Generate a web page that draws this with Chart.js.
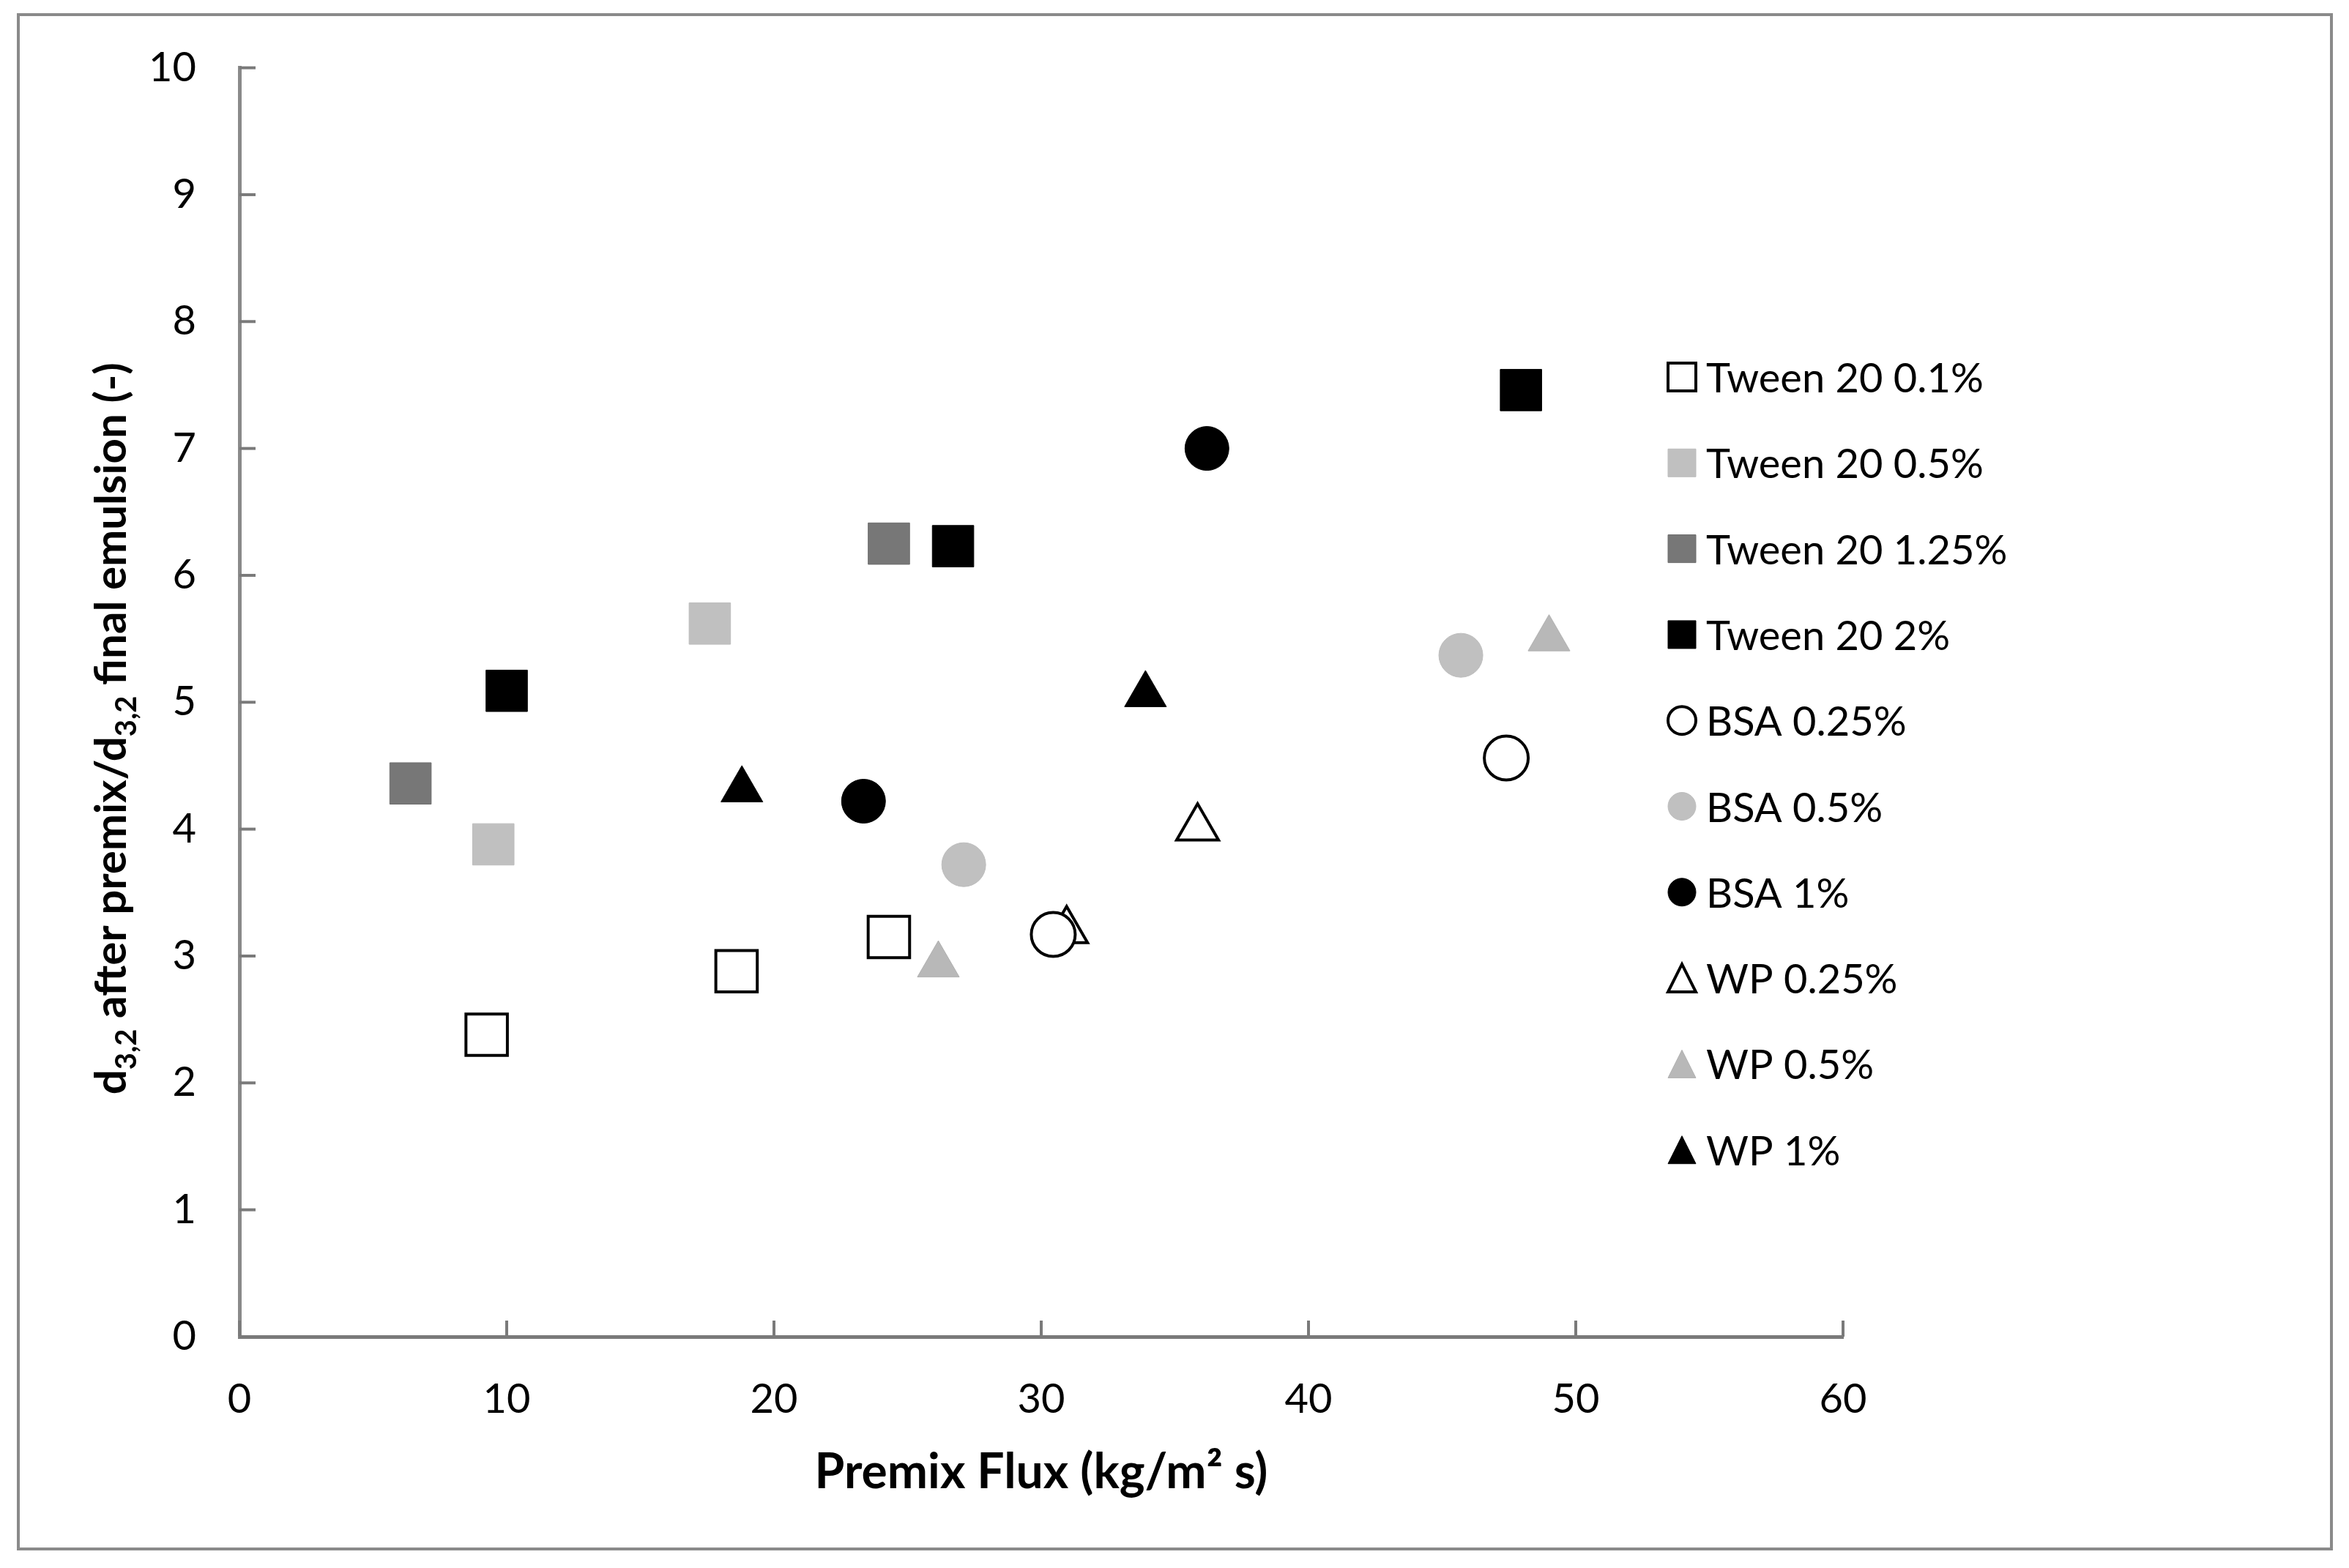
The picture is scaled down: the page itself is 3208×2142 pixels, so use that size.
<!DOCTYPE html>
<html lang="en">
<head>
  <meta charset="UTF-8">
  <title>Premix Flux vs d3,2 ratio</title>
  <script src="https://cdn.jsdelivr.net/npm/chart.js"></script>
  <style>
    html, body { margin: 0; padding: 0; background: #ffffff; }
    canvas { display: block; }
  </style>
</head>
<body>
  <canvas id="chart" width="3208" height="2142"></canvas>

  <script>
    // values
    const seriesNames = ['Tween 20 0.1%', 'Tween 20 0.5%', 'Tween 20 1.25%', 'Tween 20 2%',
                         'BSA 0.25%', 'BSA 0.5%', 'BSA 1%', 'WP 0.25%', 'WP 0.5%', 'WP 1%'];

    const tween01X = [9.25, 18.6, 24.3];
    const tween01Y = [2.38, 2.88, 3.15];
    const tween05X = [9.5, 17.6];
    const tween05Y = [3.88, 5.62];
    const tween125X = [6.4, 24.3];
    const tween125Y = [4.36, 6.25];
    const tween2X = [10.0, 26.7, 47.95];
    const tween2Y = [5.09, 6.23, 7.46];
    const bsa025X = [30.45, 47.4];
    const bsa025Y = [3.17, 4.56];
    const bsa05X = [27.1, 45.7];
    const bsa05Y = [3.72, 5.37];
    const bsa1X = [23.35, 36.2];
    const bsa1Y = [4.22, 7.0];
    const wp025X = [30.95, 35.85];
    const wp025Y = [3.2, 4.01];
    const wp05X = [26.15, 49.0];
    const wp05Y = [2.93, 5.5];
    const wp1X = [18.8, 33.9];
    const wp1Y = [4.31, 5.06];

    const xTicks = [0, 10, 20, 30, 40, 50, 60];
    const yTicks = [0, 1, 2, 3, 4, 5, 6, 7, 8, 9, 10];

    const FONT = "Lato, 'Open Sans', sans-serif";

    function pts(xs, ys) {
      return xs.map((x, i) => ({ x: x, y: ys[i] }));
    }

    // marker look per series (shape, fill, edge)
    const looks = [
      { shape: 'rect', fill: '#ffffff', edge: '#000000' },
      { shape: 'rect', fill: '#c0c0c0', edge: '#bdbdbd' },
      { shape: 'rect', fill: '#777777', edge: '#6e6e6e' },
      { shape: 'rect', fill: '#000000', edge: '#000000' },
      { shape: 'circle', fill: '#ffffff', edge: '#000000' },
      { shape: 'circle', fill: '#c0c0c0', edge: '#bdbdbd' },
      { shape: 'circle', fill: '#000000', edge: '#000000' },
      { shape: 'triangle', fill: '#ffffff', edge: '#000000' },
      { shape: 'triangle', fill: '#b8b8b8', edge: '#b0b0b0' },
      { shape: 'triangle', fill: '#000000', edge: '#000000' }
    ];
    const radiusFor = { rect: 40, circle: 30, triangle: 33 };

    const seriesData = [
      pts(tween01X, tween01Y), pts(tween05X, tween05Y), pts(tween125X, tween125Y), pts(tween2X, tween2Y),
      pts(bsa025X, bsa025Y), pts(bsa05X, bsa05Y), pts(bsa1X, bsa1Y),
      pts(wp025X, wp025Y), pts(wp05X, wp05Y), pts(wp1X, wp1Y)
    ];

    const datasets = seriesNames.map((name, i) => ({
      label: name,
      data: seriesData[i],
      pointStyle: looks[i].shape,
      pointRadius: radiusFor[looks[i].shape],
      pointBackgroundColor: looks[i].fill,
      pointBorderColor: looks[i].edge,
      pointBorderWidth: looks[i].fill === '#ffffff' ? 4 : 1,
      showLine: false
    }));

    function drawMarker(ctx, shape, cx, cy, s, fill, edge, open) {
      ctx.save();
      ctx.beginPath();
      if (shape === 'rect') {
        ctx.rect(cx - s / 2, cy - s / 2, s, s);
      } else if (shape === 'circle') {
        ctx.arc(cx, cy, s / 2, 0, Math.PI * 2);
      } else {
        ctx.moveTo(cx, cy - s / 2);
        ctx.lineTo(cx + s / 2, cy + s / 2);
        ctx.lineTo(cx - s / 2, cy + s / 2);
        ctx.closePath();
      }
      ctx.fillStyle = fill;
      ctx.fill();
      ctx.lineWidth = open ? 4 : 1;
      ctx.strokeStyle = edge;
      ctx.stroke();
      ctx.restore();
    }

    // frame, inside tick marks, axis titles and the legend
    const decorations = {
      id: 'decorations',
      afterDraw(chart) {
        const ctx = chart.ctx;
        const area = chart.chartArea;
        const xs = chart.scales.x;
        const ys = chart.scales.y;

        ctx.save();
        ctx.strokeStyle = '#8a8a8a';
        ctx.lineWidth = 4;
        ctx.strokeRect(25, 20, 3159, 2096);

        ctx.strokeStyle = '#7a7a7a';
        ctx.lineWidth = 4;
        yTicks.forEach(v => {
          const y = ys.getPixelForValue(v);
          ctx.beginPath();
          ctx.moveTo(area.left, y);
          ctx.lineTo(area.left + 22, y);
          ctx.stroke();
        });
        xTicks.forEach(v => {
          const x = xs.getPixelForValue(v);
          ctx.beginPath();
          ctx.moveTo(x, area.bottom);
          ctx.lineTo(x, area.bottom - 22);
          ctx.stroke();
        });

        // x title
        ctx.fillStyle = '#000000';
        ctx.font = 'bold 66px ' + FONT;
        ctx.textAlign = 'center';
        ctx.textBaseline = 'alphabetic';
        ctx.fillText('Premix Flux (kg/m\u00B2 s)', 1422, 2033);

        // y title with subscripts, rotated
        const parts = [
          ['d', false], ['3,2', true], [' after premix/d', false], ['3,2', true], [' final emulsion (-)', false]
        ];
        const big = 'bold 60px ' + FONT;
        const small = 'bold 40px ' + FONT;
        let total = 0;
        parts.forEach(p => { ctx.font = p[1] ? small : big; total += ctx.measureText(p[0]).width; });
        ctx.translate(172, (area.top + area.bottom) / 2 + 36);
        ctx.rotate(-Math.PI / 2);
        ctx.textAlign = 'left';
        let pos = -total / 2;
        parts.forEach(p => {
          ctx.font = p[1] ? small : big;
          ctx.fillText(p[0], pos, p[1] ? 14 : 0);
          pos += ctx.measureText(p[0]).width;
        });
        ctx.restore();

        // legend inside the plot
        ctx.save();
        ctx.font = '56px ' + FONT;
        ctx.textAlign = 'left';
        ctx.textBaseline = 'middle';
        ctx.fillStyle = '#000000';
        seriesNames.forEach((name, i) => {
          const cy = 515 + i * 117.3;
          const lk = looks[i];
          drawMarker(ctx, lk.shape, 2297, cy, 38, lk.fill, lk.edge, lk.fill === '#ffffff');
          ctx.fillText(name, 2330, cy + 3);
        });
        ctx.restore();
      }
    };

    new Chart(document.getElementById('chart'), {
      type: 'scatter',
      data: { datasets: datasets },
      options: {
        responsive: false,
        devicePixelRatio: 1,
        animation: false,
        layout: { padding: { left: 0, right: 691, top: 88, bottom: 0 } },
        plugins: {
          legend: { display: false },
          tooltip: { enabled: false }
        },
        scales: {
          x: {
            type: 'linear',
            min: 0,
            max: 60,
            afterFit: s => { s.height = 316; },
            afterBuildTicks: s => { s.ticks = xTicks.map(v => ({ value: v })); },
            grid: { display: false, drawTicks: false },
            border: { display: true, color: '#7a7a7a', width: 5 },
            ticks: { color: '#000000', padding: 52, font: { family: FONT, size: 56 } }
          },
          y: {
            type: 'linear',
            min: 0,
            max: 10,
            afterFit: s => { s.width = 327; },
            afterBuildTicks: s => { s.ticks = yTicks.map(v => ({ value: v })); },
            grid: { display: false, drawTicks: false },
            border: { display: true, color: '#8a8a8a', width: 5 },
            ticks: { color: '#000000', padding: 59, font: { family: FONT, size: 56 } }
          }
        }
      },
      plugins: [decorations]
    });
  </script>
</body>
</html>
